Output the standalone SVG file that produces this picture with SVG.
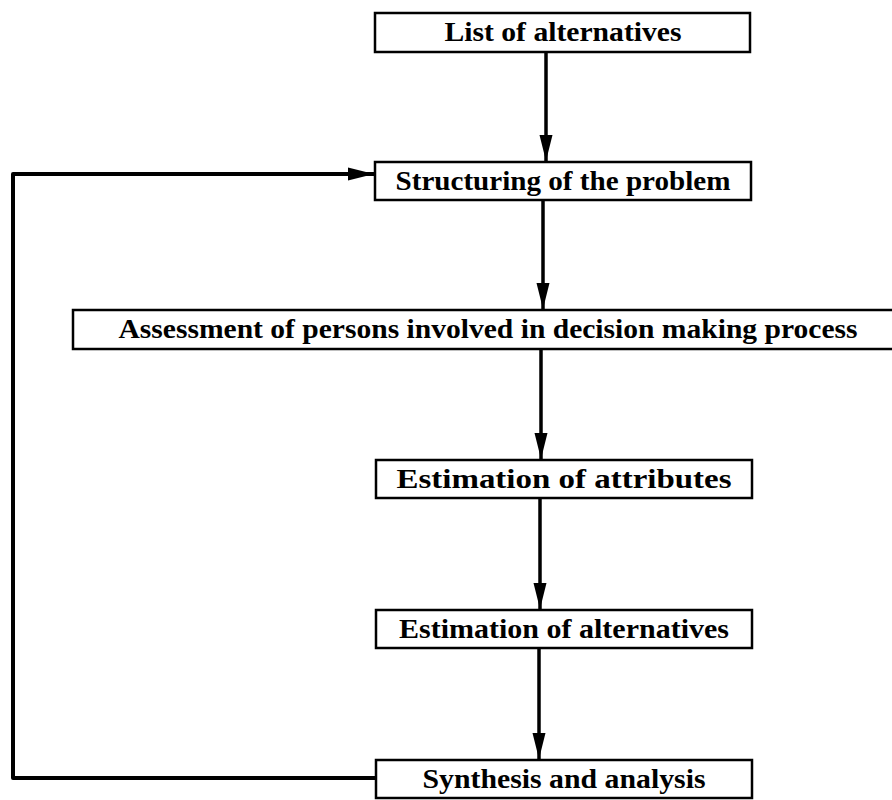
<svg xmlns="http://www.w3.org/2000/svg" width="892" height="800" viewBox="0 0 892 800">
<defs>
<style>
.box{fill:#fff;stroke:#000;stroke-width:2.5}
.lbl{font-family:"Liberation Serif","Times New Roman",serif;font-size:27px;font-weight:bold;fill:#000;text-anchor:middle}
.con{fill:none;stroke:#000;stroke-width:3.5;stroke-linejoin:round}
</style>
<marker id="ah" markerUnits="userSpaceOnUse" markerWidth="28" markerHeight="16" refX="26" refY="7" orient="auto">
<path d="M0,0.5 L26,7 L0,13.5 z" fill="#000"/>
</marker>
</defs>
<rect width="892" height="800" fill="#fff"/>
<g id="connectors">
<line class="con" x1="546" y1="52" x2="546" y2="161" marker-end="url(#ah)"/>
<line class="con" x1="543" y1="200" x2="543" y2="309" marker-end="url(#ah)"/>
<line class="con" x1="541" y1="349" x2="541" y2="459" marker-end="url(#ah)"/>
<line class="con" x1="540" y1="498" x2="540" y2="609" marker-end="url(#ah)"/>
<line class="con" x1="539" y1="648" x2="539" y2="759" marker-end="url(#ah)"/>
<polyline class="con" style="stroke-width:4" points="376,778 13,778 13,174 374,174" marker-end="url(#ah)"/>
</g>
<g id="n1"><rect class="box" x="375" y="13" width="375" height="39"/><text class="lbl" x="563" y="41" textLength="237" lengthAdjust="spacingAndGlyphs">List of alternatives</text></g>
<g id="n2"><rect class="box" x="375" y="162" width="376" height="38"/><text class="lbl" x="563" y="190" textLength="335" lengthAdjust="spacingAndGlyphs">Structuring of the problem</text></g>
<g id="n3"><rect class="box" x="73" y="310" width="830" height="39"/><text class="lbl" x="488" y="338" textLength="739" lengthAdjust="spacingAndGlyphs">Assessment of persons involved in decision making process</text></g>
<g id="n4"><rect class="box" x="376" y="460" width="376" height="38"/><text class="lbl" x="564" y="488" textLength="335" lengthAdjust="spacingAndGlyphs">Estimation of attributes</text></g>
<g id="n5"><rect class="box" x="376" y="610" width="376" height="38"/><text class="lbl" x="564" y="638" textLength="330" lengthAdjust="spacingAndGlyphs">Estimation of alternatives</text></g>
<g id="n6"><rect class="box" x="376" y="760" width="376" height="38"/><text class="lbl" x="564" y="788" textLength="283" lengthAdjust="spacingAndGlyphs">Synthesis and analysis</text></g>
</svg>
